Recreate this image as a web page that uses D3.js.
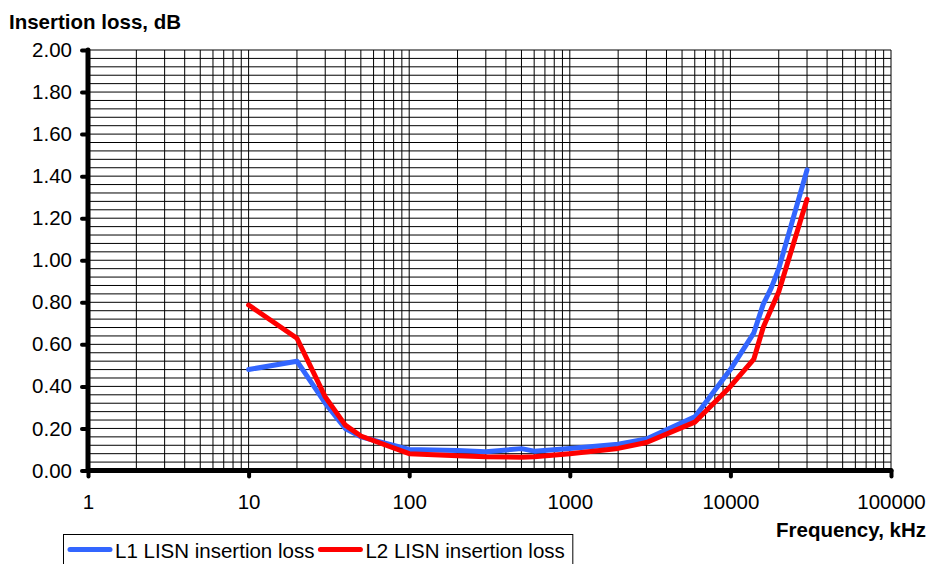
<!DOCTYPE html>
<html>
<head>
<meta charset="utf-8">
<script src="https://cdn.jsdelivr.net/npm/d3@7"></script>
<style>
  body { margin: 0; background: #fff; }
  svg { display: block; font-family: "Liberation Sans", Arial, sans-serif; }
</style>
</head>
<body>
<svg id="chart" width="932" height="564"></svg>
<script>
// Frequencies (kHz) of the measured points
const freqs = [10, 20, 30, 40, 50, 100, 200, 300, 500, 600, 1000, 2000, 3000, 6000, 10000, 14000, 16000, 18000, 20000, 30000];
// Insertion loss, dB
const l1Loss = [0.48, 0.52, 0.32, 0.20, 0.16, 0.10, 0.095, 0.089, 0.104, 0.092, 0.105, 0.125, 0.15, 0.255, 0.48, 0.655, 0.79, 0.87, 0.96, 1.43];
const l2Loss = [0.787, 0.629, 0.35, 0.216, 0.164, 0.08, 0.07, 0.065, 0.063, 0.065, 0.08, 0.105, 0.133, 0.23, 0.40, 0.53, 0.68, 0.77, 0.85, 1.29];
const seriesNames = ["L1 LISN insertion loss", "L2 LISN insertion loss"];
const xTicks = [1, 10, 100, 1000, 10000, 100000];
const yTicks = [0, 0.2, 0.4, 0.6, 0.8, 1.0, 1.2, 1.4, 1.6, 1.8, 2.0];

const svg = d3.select("#chart");
const colors = ["#3366ff", "#ff0000"];

const x = d3.scaleLog().domain([1, 100000]).range([88, 891]);
const y = d3.scaleLinear().domain([0, 2]).range([470.5, 50]);

// grid: every 1..9 per decade, every 0.04 dB
const grid = svg.append("g").attr("stroke", "#000").attr("stroke-width", 1);
const vLines = [];
for (let k = 0; k < 5; k++) for (let m = 1; m < 10; m++) vLines.push(m * Math.pow(10, k));
vLines.push(100000);
grid.selectAll(".v").data(vLines).enter().append("line")
    .attr("x1", d => x(d)).attr("x2", d => x(d))
    .attr("y1", y(0)).attr("y2", y(2));
grid.selectAll(".h").data(d3.range(0, 51).map(i => i * 0.04)).enter().append("line")
    .attr("x1", x(1)).attr("x2", x(100000))
    .attr("y1", d => y(d)).attr("y2", d => y(d));

// axes
const xAxis = svg.append("g").attr("transform", `translate(0,${y(0)})`)
    .call(d3.axisBottom(x).tickValues(xTicks).tickSize(6).tickPadding(18).tickFormat(d3.format("d")));
const yAxis = svg.append("g").attr("transform", `translate(${x(1)},0)`)
    .call(d3.axisLeft(y).tickValues(yTicks).tickSize(6).tickPadding(10).tickFormat(d3.format(".2f")));
[xAxis, yAxis].forEach(a => {
    a.select(".domain").attr("stroke-width", 5).attr("stroke-linecap", "round");
    a.selectAll(".tick line").attr("stroke-width", 4).attr("stroke-linecap", "round");
    a.selectAll(".tick text").style("font-size", "20.5px").attr("fill", "#000");
});
xAxis.select(".domain").attr("d", `M${x(1)},0H${x(100000)}`);
yAxis.select(".domain").attr("d", `M0,${y(0)}V${y(2)}`);
xAxis.selectAll(".tick text").attr("dy", "0.71em");

// lines
const line = d3.line().x(d => x(d[0])).y(d => y(d[1]));
[l1Loss, l2Loss].forEach((vals, i) => {
    svg.append("path")
        .datum(freqs.map((f, j) => [f, vals[j]]))
        .attr("fill", "none")
        .attr("stroke", colors[i])
        .attr("stroke-width", 5)
        .attr("stroke-linejoin", "round")
        .attr("stroke-linecap", "round")
        .attr("d", line);
});

// axis titles
svg.append("text").attr("x", 9).attr("y", 28.5)
    .style("font-size", "20.5px").style("font-weight", "bold").text("Insertion loss, dB");
svg.append("text").attr("x", 926).attr("y", 537).attr("text-anchor", "end")
    .style("font-size", "20.5px").style("font-weight", "bold").text("Frequency, kHz");

// legend
const legend = svg.append("g");
const box = legend.append("rect").attr("x", 63.5).attr("y", 534.5).attr("height", 40)
    .attr("fill", "#fff").attr("stroke", "#000").attr("stroke-width", 1);
let lx = 68;
seriesNames.forEach((name, i) => {
    legend.append("line").attr("x1", lx + 2).attr("x2", lx + 42).attr("y1", 549.5).attr("y2", 549.5)
        .attr("stroke", colors[i]).attr("stroke-width", 5).attr("stroke-linecap", "round");
    const t = legend.append("text").attr("x", lx + 47).attr("y", 557.5)
        .style("font-size", "20.5px").text(name);
    lx += 47 + t.node().getComputedTextLength() + 4;
});
box.attr("width", lx - 63.5 + 4);
</script>
</body>
</html>
